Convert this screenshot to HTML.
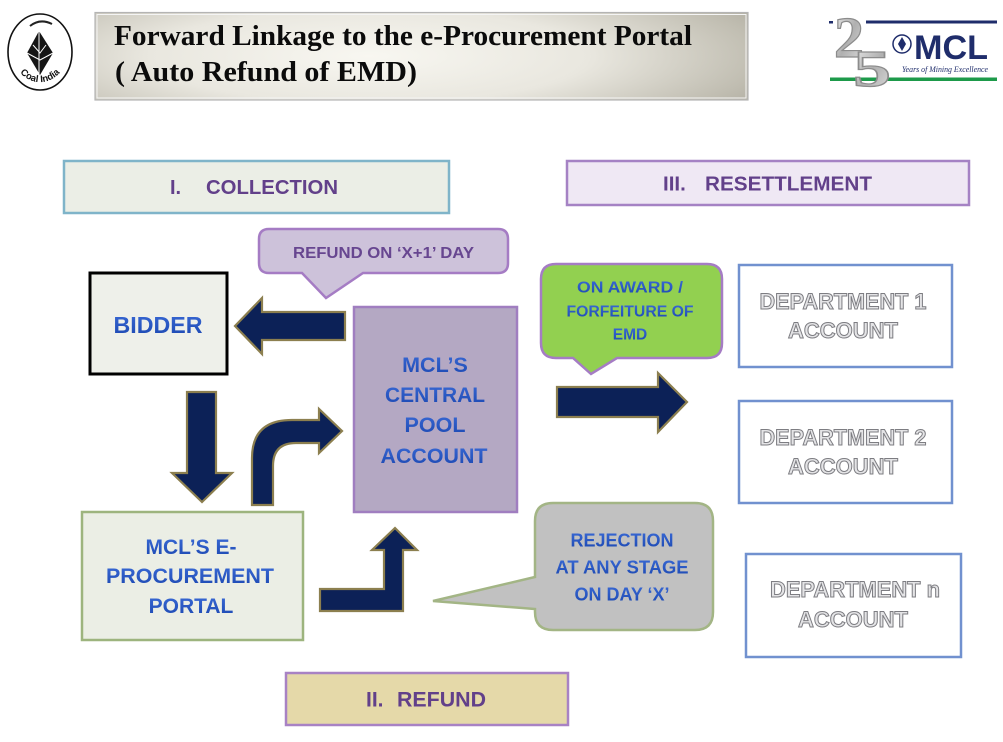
<!DOCTYPE html>
<html>
<head>
<meta charset="utf-8">
<style>
  html,body{margin:0;padding:0;background:#ffffff;}
  body{width:1003px;height:742px;overflow:hidden;}
  svg{display:block;}
  .sans{font-family:"Liberation Sans",Arial,sans-serif;font-weight:bold;}
  .serif{font-family:"Liberation Serif","Times New Roman",serif;}
</style>
</head>
<body>
<svg width="1003" height="742" viewBox="0 0 1003 742" xmlns="http://www.w3.org/2000/svg">
  <defs>
    <radialGradient id="titleGrad" cx="0.42" cy="0.5" r="0.75" fx="0.42" fy="0.5" gradientTransform="translate(0.42 0.5) scale(1 1.6) translate(-0.42 -0.5)">
      <stop offset="0" stop-color="#f8f7f1"/>
      <stop offset="0.45" stop-color="#e9e7df"/>
      <stop offset="0.8" stop-color="#c0bdb1"/>
      <stop offset="1" stop-color="#a5a295"/>
    </radialGradient>
    <linearGradient id="blueText" x1="0" y1="0" x2="0" y2="1">
      <stop offset="0" stop-color="#3a6ad6"/>
      <stop offset="1" stop-color="#1b47b0"/>
    </linearGradient>
    <linearGradient id="silver" x1="0" y1="0" x2="1" y2="1">
      <stop offset="0" stop-color="#f0f0f0"/>
      <stop offset="0.5" stop-color="#b0b0b0"/>
      <stop offset="1" stop-color="#e0e0e0"/>
    </linearGradient>
    <path id="ciBottom" d="M14,62 A28,32 0 0 0 66,62"/>
  </defs>

  <!-- Coal India logo -->
  <ellipse cx="40" cy="52" rx="32" ry="38" fill="#ffffff" stroke="#111" stroke-width="1.6"/>
  <path d="M39,31 L53,53 L40,75 L27,53 Z" fill="#151515"/>
  <path d="M39,31 L39,75 M27,53 L40,60 L53,53 M33,45 L40,53 L46,45" stroke="#ffffff" stroke-width="1" fill="none"/>
  <path d="M30,26 Q40,18 52,24" stroke="#222" stroke-width="2" fill="none"/>
  <text class="sans" font-size="9.5" fill="#111"><textPath href="#ciBottom" startOffset="50%" text-anchor="middle">Coal India</textPath></text>

  <!-- Title box -->
  <rect x="95" y="12.5" width="653" height="87.5" fill="url(#titleGrad)" stroke="#b4b4b4" stroke-width="1.2"/>
  <rect x="97" y="14.5" width="649" height="83.5" fill="none" stroke="#f4f4f4" stroke-width="1"/>
  <text class="serif" font-weight="bold" font-size="28.5" fill="#0b0b0b" x="114" y="45" textLength="578" lengthAdjust="spacingAndGlyphs">Forward Linkage to the e-Procurement Portal</text>
  <text class="serif" font-weight="bold" font-size="28.5" fill="#0b0b0b" x="115" y="81" textLength="302" lengthAdjust="spacingAndGlyphs">( Auto Refund of EMD)</text>

  <!-- MCL logo -->
  <rect x="829" y="21" width="4" height="2.5" fill="#1f2d6b"/>
  <rect x="866" y="20.5" width="131" height="3" fill="#1f2d6b"/>
  <rect x="830" y="77.5" width="167" height="3.5" fill="#1d9a4a"/>
  <text class="serif" font-weight="bold" font-size="58" fill="url(#silver)" stroke="#8c8c8c" stroke-width="1.2" x="834" y="57" textLength="30" lengthAdjust="spacingAndGlyphs">2</text>
  <text class="serif" font-weight="bold" font-size="52" fill="url(#silver)" stroke="#8c8c8c" stroke-width="1.2" x="853" y="86" textLength="38" lengthAdjust="spacingAndGlyphs">5</text>
  <circle cx="902" cy="44" r="9" fill="#ffffff" stroke="#1f2d6b" stroke-width="1.5"/>
  <path d="M902,37 L906,44 L902,51 L898,44 Z" fill="#1f2d6b"/>
  <text class="sans" font-size="34" fill="#1f2d6b" x="914" y="59" textLength="74" lengthAdjust="spacingAndGlyphs">MCL</text>
  <text class="serif" font-style="italic" font-size="8.5" fill="#1f2d6b" x="902" y="72" textLength="86" lengthAdjust="spacingAndGlyphs">Years of Mining Excellence</text>

  <!-- I. COLLECTION -->
  <rect x="64" y="161" width="385" height="52" fill="#ebeee6" stroke="#7fb4c9" stroke-width="2.5"/>
  <text class="sans" font-size="20" fill="#62408a" x="170" y="194">I.</text>
  <text class="sans" font-size="20" fill="#62408a" x="206" y="194" textLength="132" lengthAdjust="spacingAndGlyphs">COLLECTION</text>

  <!-- III. RESETTLEMENT -->
  <rect x="567" y="161" width="402" height="44" fill="#efe8f4" stroke="#a582c4" stroke-width="2.5"/>
  <text class="sans" font-size="20.5" fill="#62408a" x="663" y="190.5">III.</text>
  <text class="sans" font-size="20.5" fill="#62408a" x="705" y="190.5" textLength="167" lengthAdjust="spacingAndGlyphs">RESETTLEMENT</text>

  <!-- Refund callout -->
  <path d="M269,229 H498 Q508,229 508,239 V263 Q508,273 498,273 H363 L326,298 L302,273 H269 Q259,273 259,263 V239 Q259,229 269,229 Z" fill="#cdc2da" stroke="#a57cc4" stroke-width="2.5"/>
  <text class="sans" font-size="16" fill="#674690" x="383.5" y="258" text-anchor="middle" textLength="181" lengthAdjust="spacingAndGlyphs">REFUND ON ‘X+1’ DAY</text>

  <!-- Bidder -->
  <rect x="90" y="273" width="137" height="101" fill="#eef0ea" stroke="#000000" stroke-width="3"/>
  <text class="sans" font-size="23" fill="url(#blueText)" x="158" y="333" text-anchor="middle" textLength="89" lengthAdjust="spacingAndGlyphs">BIDDER</text>

  <!-- Left arrow -->
  <path d="M345,312 H262 V298 L235,326 L262,354 V340 H345 Z" fill="#0c2157" stroke="#8c7f4f" stroke-width="2.2" stroke-linejoin="miter"/>

  <!-- Central pool -->
  <rect x="354" y="307" width="163" height="205" fill="#b4a8c3" stroke="#a07ec0" stroke-width="2.5"/>
  <g class="sans" font-size="21.5" fill="url(#blueText)" text-anchor="middle">
    <text x="435" y="372">MCL’S</text>
    <text x="435" y="402" textLength="100" lengthAdjust="spacingAndGlyphs">CENTRAL</text>
    <text x="435" y="432">POOL</text>
    <text x="434" y="463" textLength="107" lengthAdjust="spacingAndGlyphs">ACCOUNT</text>
  </g>

  <!-- Down arrow -->
  <path d="M187,392 H216 V473 H232 L202,502 L172,473 H187 Z" fill="#0c2157" stroke="#8c7f4f" stroke-width="2.2"/>

  <!-- Curved arrow -->
  <path d="M252,505 L252,458 Q252,420 292,420 L319,420 L319,409 L342,431 L319,453 L319,443 L296,443 Q273,443 273,466 L273,505 Z" fill="#0c2157" stroke="#8c7f4f" stroke-width="2.2"/>

  <!-- Portal -->
  <rect x="82" y="512" width="221" height="128" fill="#ebeee5" stroke="#9db47e" stroke-width="2.5"/>
  <g class="sans" font-size="21" fill="url(#blueText)" text-anchor="middle">
    <text x="191" y="554">MCL’S E-</text>
    <text x="190" y="583" textLength="168" lengthAdjust="spacingAndGlyphs">PROCUREMENT</text>
    <text x="191" y="613">PORTAL</text>
  </g>

  <!-- L-up arrow -->
  <path d="M320,589 L384,589 L384,550 L372,550 L395,528 L417,550 L403,550 L403,611 L320,611 Z" fill="#0c2157" stroke="#8c7f4f" stroke-width="2.2"/>

  <!-- Rejection callout -->
  <path d="M553,503 H695 Q713,503 713,521 V612 Q713,630 695,630 H553 Q535,630 535,612 V609 L433,601 L535,577 V521 Q535,503 553,503 Z" fill="#c1c1c1" stroke="#a3b585" stroke-width="2.5"/>
  <g class="sans" font-size="18" fill="url(#blueText)" text-anchor="middle">
    <text x="622" y="546.5">REJECTION</text>
    <text x="622" y="573.5" textLength="133" lengthAdjust="spacingAndGlyphs">AT ANY STAGE</text>
    <text x="622" y="600.5">ON DAY ‘X’</text>
  </g>

  <!-- Green callout -->
  <path d="M556,264 H707 Q722,264 722,279 V343 Q722,358 707,358 H617 L591,374 L573,358 H556 Q541,358 541,343 V279 Q541,264 556,264 Z" fill="#92d050" stroke="#a57cc4" stroke-width="2.5"/>
  <g class="sans" font-size="15.5" fill="url(#blueText)" text-anchor="middle">
    <text x="630" y="292.5" textLength="106" lengthAdjust="spacingAndGlyphs">ON AWARD /</text>
    <text x="630" y="316.5" textLength="127" lengthAdjust="spacingAndGlyphs">FORFEITURE OF</text>
    <text x="630" y="339.5">EMD</text>
  </g>

  <!-- Right arrow -->
  <path d="M557,387 H658 V373 L687,402 L658,432 V417 H557 Z" fill="#0c2157" stroke="#8c7f4f" stroke-width="2.2"/>

  <!-- Department boxes -->
  <rect x="739" y="265" width="213" height="102" fill="#ffffff" stroke="#7191cf" stroke-width="2.5"/>
  <rect x="739" y="401" width="213" height="102" fill="#ffffff" stroke="#7191cf" stroke-width="2.5"/>
  <rect x="746" y="554" width="215" height="103" fill="#ffffff" stroke="#7191cf" stroke-width="2.5"/>
  <g class="sans" font-size="22" fill="#e4e4e6" stroke="#7d7d82" stroke-width="1" text-anchor="middle">
    <text x="843" y="309" textLength="167" lengthAdjust="spacingAndGlyphs">DEPARTMENT 1</text>
    <text x="843" y="338">ACCOUNT</text>
    <text x="843" y="445" textLength="167" lengthAdjust="spacingAndGlyphs">DEPARTMENT 2</text>
    <text x="843" y="474">ACCOUNT</text>
    <text x="855" y="597" textLength="170" lengthAdjust="spacingAndGlyphs">DEPARTMENT n</text>
    <text x="853" y="627">ACCOUNT</text>
  </g>

  <!-- II. REFUND -->
  <rect x="286" y="673" width="282" height="52" fill="#e5d9a9" stroke="#a882c4" stroke-width="2.5"/>
  <text class="sans" font-size="21" fill="#62408a" x="366" y="706.5">II.</text>
  <text class="sans" font-size="21" fill="#62408a" x="397" y="706.5" textLength="89" lengthAdjust="spacingAndGlyphs">REFUND</text>
</svg>
</body>
</html>
